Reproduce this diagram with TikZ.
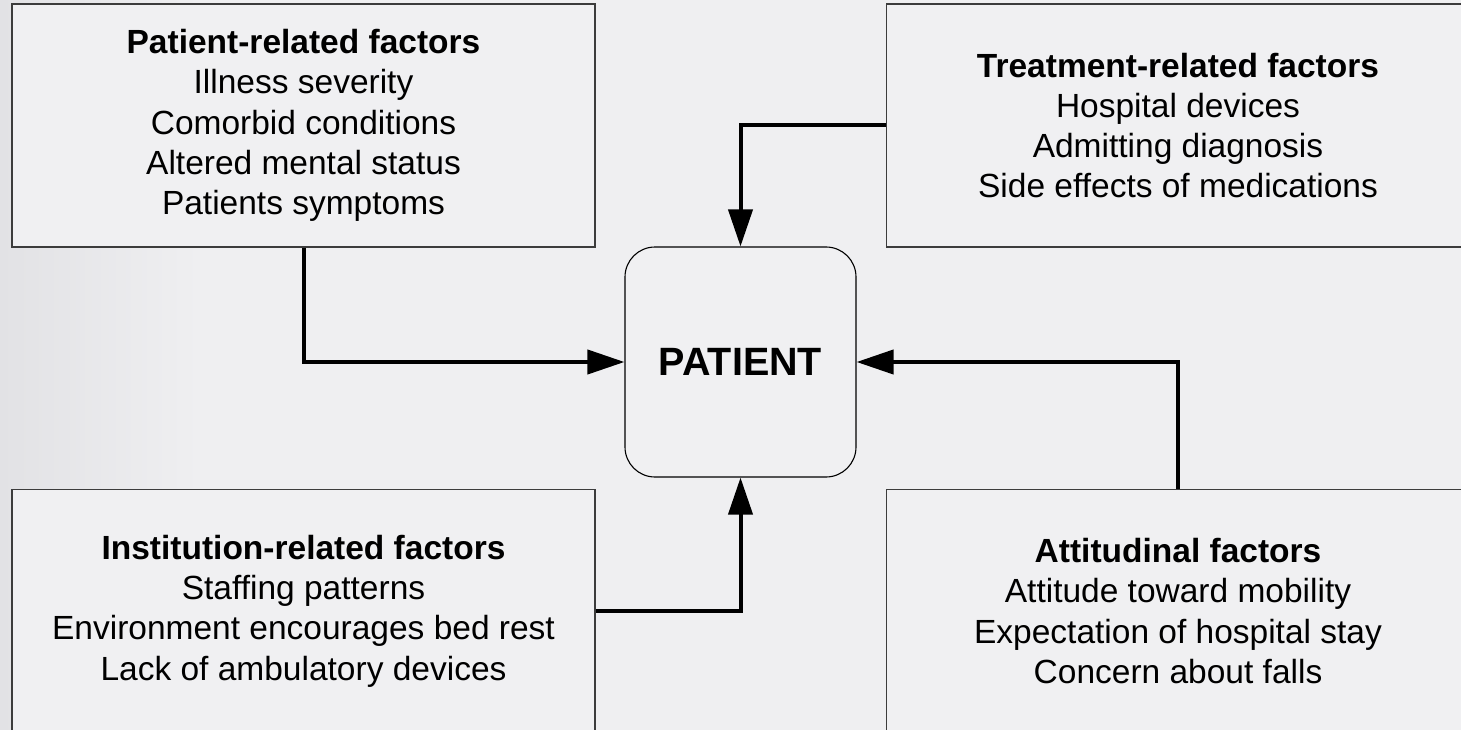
\documentclass[tikz,border=0pt]{standalone}
\usepackage{fontspec}
\setmainfont{Liberation Sans}
\newfontfamily\patfont{Liberation Sans}
\usetikzlibrary{arrows.meta}
\definecolor{bgc}{RGB}{239,239,241}
\definecolor{bgl}{RGB}{226,226,229}
\definecolor{boxfill}{RGB}{240,240,242}
\definecolor{boxline}{RGB}{60,60,60}
\tikzset{
  factorbox/.style={draw=boxline, line width=1.2pt, fill=boxfill, minimum width=583pt, minimum height=243pt,
    inner sep=0pt, align=center, font=\fontsize{33.5}{40.3}\selectfont},
  patbox/.style={draw=black, line width=1.1pt, fill=boxfill, rounded corners=30pt, minimum width=231pt,
    minimum height=230pt, inner sep=0pt, font=\patfont\bfseries\fontsize{39.5}{44}\selectfont},
  conn/.style={line width=4pt, -{Triangle[length=37pt, width=24pt]}}
}
\begin{document}
\begin{tikzpicture}[x=1pt, y=-1pt]
\useasboundingbox (0,0) rectangle (1461,730);
\fill[bgc] (0,0) rectangle (1461,730);
\shade[left color=bgl, right color=bgc] (0,0) rectangle (200,730);
\node[factorbox] (tl) at (303.5,125.5) {\textbf{Patient-related factors}\\Illness severity\\Comorbid conditions\\Altered mental status\\Patients symptoms};
\node[factorbox] (tr) at (1178,125.5) {\textbf{Treatment-related factors}\\Hospital devices\\Admitting diagnosis\\Side effects of medications};
\node[factorbox] (bl) at (303.5,611) {\textbf{Institution-related factors}\\Staffing patterns\\Environment encourages bed rest\\Lack of ambulatory devices};
\node[factorbox] (br) at (1178,611) {\textbf{Attitudinal factors}\\Attitude toward mobility\\Expectation of hospital stay\\Concern about falls};
\node[patbox] (pat) at (740.5,362) {PATIENT};
\draw[conn] (tl.south) |- (pat.west);
\draw[conn] (tr.west) -| (pat.north);
\draw[conn] (bl.east) -| (pat.south);
\draw[conn] (br.north) |- (pat.east);
\end{tikzpicture}
\end{document}
